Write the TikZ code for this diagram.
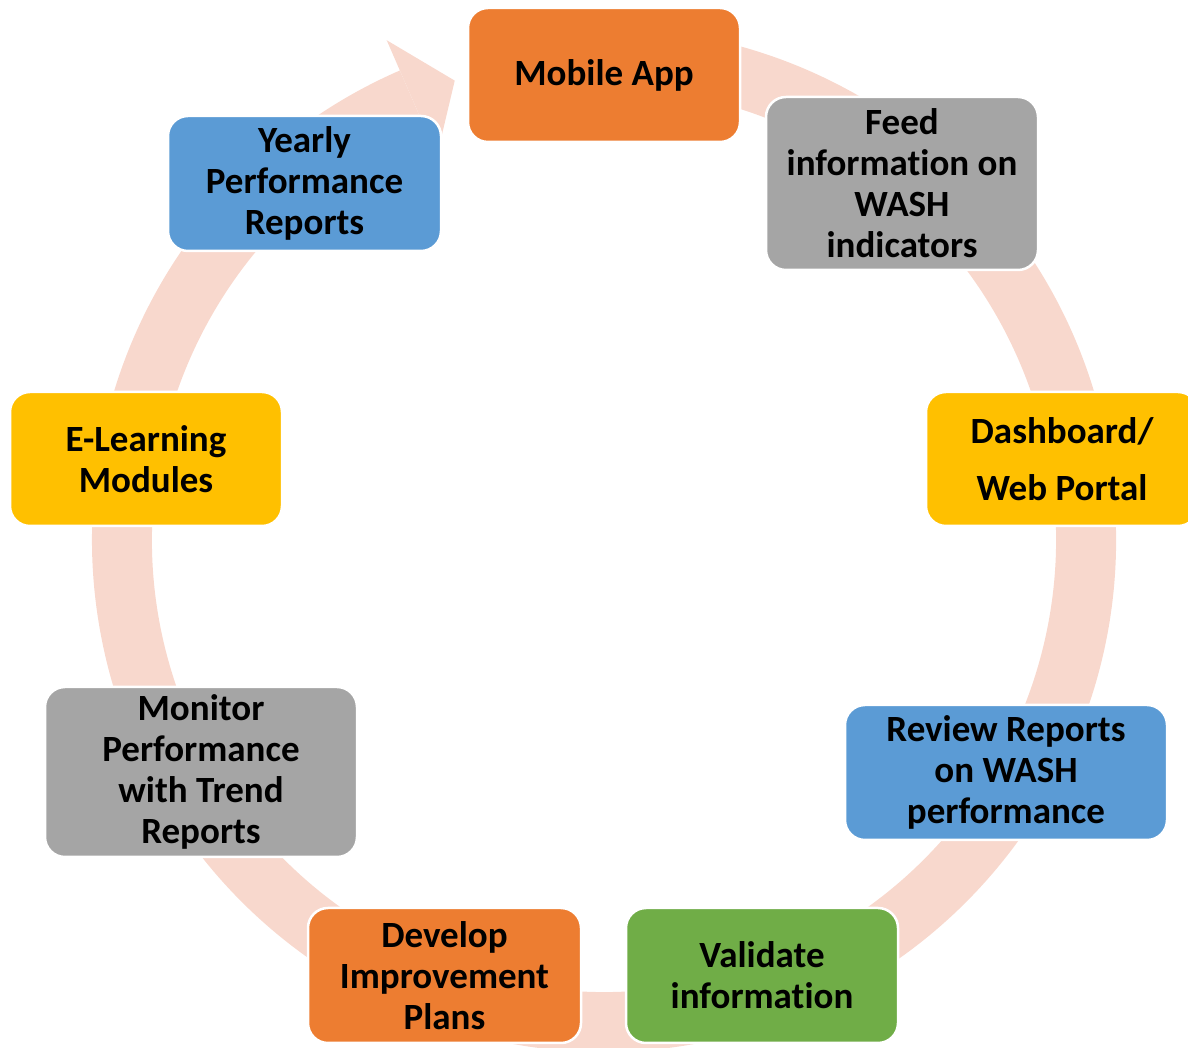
\documentclass[tikz,border=0pt]{standalone}
\usepackage{fontspec}
\setmainfont{Carlito}[Ligatures=NoCommon]
\definecolor{ringc}{RGB}{248,216,205}
\definecolor{corange}{HTML}{ED7D31}
\definecolor{cgray}{HTML}{A5A5A5}
\definecolor{cgold}{HTML}{FFC000}
\definecolor{cblue}{HTML}{5B9BD5}
\definecolor{cgreen}{HTML}{70AD47}
\begin{document}
\begin{tikzpicture}[x=1pt,y=1pt,
  box/.style={draw=white, line width=2.5pt, rounded corners=20pt, align=center,
    inner sep=0pt, font=\bfseries\fontsize{37}{41}\selectfont, text=black},
  bw/.style 2 args={minimum width=#1, minimum height=#2}]
\useasboundingbox (0,0) rectangle (1188,1048);
\begin{scope}[shift={(604,508)}]
  \fill[ringc] (100:512) arc[start angle=100, end angle=-246.5, radius=512]
     -- (-246.5:452) arc[start angle=-246.5, end angle=100, radius=452] -- cycle;
  \fill[ringc] (113.5:545) -- (108:483) -- (113.5:419) -- cycle;
\end{scope}
\node[box, fill=corange, bw={272}{134}] (mobile) at (604,973) {Mobile App};
\node[box, fill=cgray, bw={272}{173}] (feed) at (902,864.5) {Feed\\information on\\WASH\\indicators};
\node[box, fill=cgold, bw={272}{134}] (dash) at (1062,589) {Dashboard/\\[16pt]Web Portal};
\node[box, fill=cblue, bw={322}{135}] (review) at (1006,275.5) {Review Reports\\on WASH\\performance};
\node[box, fill=cgreen, bw={272}{135}] (validate) at (762,72.5) {Validate\\information};
\node[box, fill=corange, bw={273}{135}] (develop) at (444.5,72.5) {Develop\\Improvement\\Plans};
\node[box, fill=cgray, bw={312}{170}] (monitor) at (201,276) {Monitor\\Performance\\with Trend\\Reports};
\node[box, fill=cgold, bw={272}{134}] (elearn) at (146,589) {E-Learning\\Modules};
\node[box, fill=cblue, bw={273}{135}] (yearly) at (304.5,864.5) {Yearly\\Performance\\Reports};
\end{tikzpicture}
\end{document}
